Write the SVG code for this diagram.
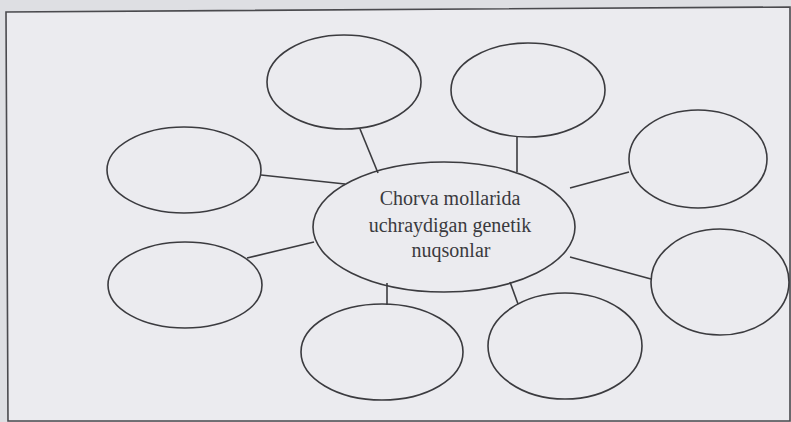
<svg xmlns="http://www.w3.org/2000/svg" width="791" height="422" viewBox="0 0 791 422">
  <style>
    .node { fill: none; stroke: #3b3b3f; stroke-width: 1.6; }
    .edge { stroke: #3b3b3f; stroke-width: 1.6; fill: none; }
    .frame { fill: #ebebef; stroke: #4a4a4e; stroke-width: 1.6; }
    .label { font-family: "Liberation Serif", "Times New Roman", serif; font-size: 20px; fill: #3a3a3e; text-anchor: middle; }
  </style>
  <rect x="0" y="0" width="791" height="422" fill="#dedfe3"/>
  <path class="frame" d="M790,7 L6,12 L8,421 L790,421 Z"/>
  <g id="connectors">
    <line class="edge" x1="360" y1="129" x2="378" y2="173"/>
    <line class="edge" x1="517" y1="137" x2="517" y2="172"/>
    <line class="edge" x1="570" y1="188" x2="629" y2="172"/>
    <line class="edge" x1="261" y1="175" x2="345" y2="184"/>
    <line class="edge" x1="247" y1="258" x2="314" y2="242"/>
    <line class="edge" x1="387" y1="283" x2="387" y2="305"/>
    <line class="edge" x1="510" y1="282" x2="518" y2="304"/>
    <line class="edge" x1="570" y1="257" x2="651" y2="279"/>
  </g>
  <g id="center">
    <ellipse class="node" cx="444" cy="227" rx="131" ry="65"/>
    <text class="label" x="450" y="205">Chorva mollarida</text>
    <text class="label" x="450" y="232">uchraydigan genetik</text>
    <text class="label" x="451" y="257">nuqsonlar</text>
  </g>
  <g id="node-top-left"><ellipse class="node" cx="344" cy="82" rx="77" ry="47"/></g>
  <g id="node-top-right"><ellipse class="node" cx="528" cy="90" rx="77" ry="47"/></g>
  <g id="node-right-top"><ellipse class="node" cx="698" cy="159" rx="69" ry="49"/></g>
  <g id="node-right-bottom"><ellipse class="node" cx="720" cy="282" rx="69" ry="53"/></g>
  <g id="node-bottom-right"><ellipse class="node" cx="565" cy="346" rx="77" ry="53"/></g>
  <g id="node-bottom-left"><ellipse class="node" cx="382" cy="352" rx="81" ry="48"/></g>
  <g id="node-left-bottom"><ellipse class="node" cx="185" cy="285" rx="77" ry="43"/></g>
  <g id="node-left-top"><ellipse class="node" cx="184" cy="170" rx="77" ry="43"/></g>
</svg>
